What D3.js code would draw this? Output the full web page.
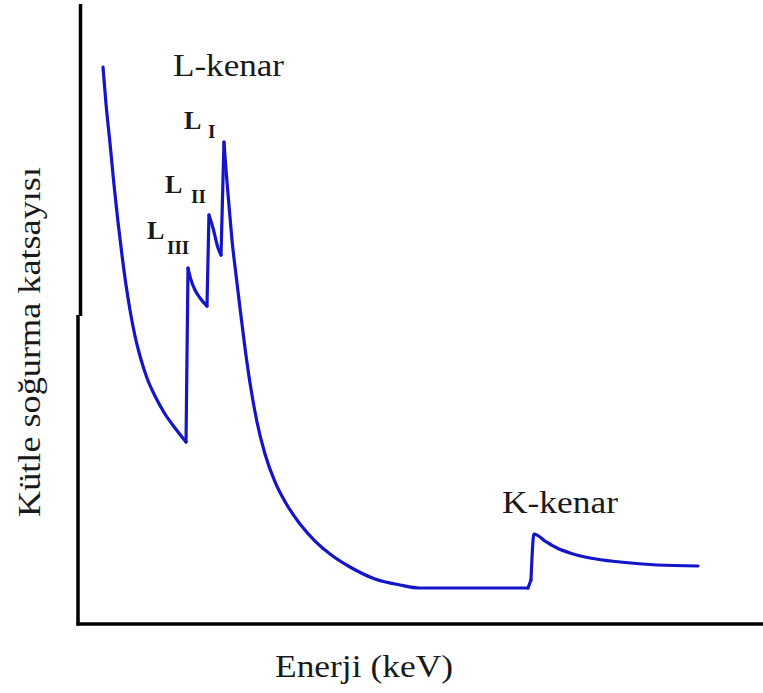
<!DOCTYPE html>
<html>
<head>
<meta charset="utf-8">
<script src="https://cdn.jsdelivr.net/npm/d3@7"></script>
<style>
  html, body { margin: 0; padding: 0; background: #ffffff; }
  svg { display: block; }
  text { font-family: "Liberation Serif", "Times New Roman", serif; fill: #1a1a1a; }
</style>
</head>
<body>
<svg id="chart" width="763" height="693"></svg>
<script>
// Energy (arbitrary units) and mass absorption coefficient (arbitrary units)
const energy = [3.65, 4.09, 4.67, 5.26, 5.84, 6.42, 7.01, 7.59, 8.32, 9.05, 10.07, 11.24, 12.7, 14.16, 15.77,
                16.06, 16.5, 17.08, 17.81, 18.83,
                19.12, 19.71, 20.44, 20.88,
                21.31, 21.61, 22.04, 22.48, 23.07, 23.65, 24.38, 25.11, 26.13, 27.3, 28.76, 30.51, 32.41, 34.6, 36.79, 39.71, 43.36, 47.01, 49.93, 65.69,
                66.13,
                66.57, 68.18, 69.93, 71.82, 74.74, 79.12, 84.53, 90.51];
const coefficient = [92.83, 86.67, 80.17, 73.17, 67.0, 61.5, 56.5, 52.33, 48.0, 44.67, 41.0, 38.0, 35.0, 32.67, 30.33,
                     59.33, 57.33, 55.67, 54.33, 53.0,
                     68.17, 66.0, 62.67, 61.5,
                     80.33, 75.67, 69.83, 64.0, 58.17, 52.67, 46.0, 40.17, 33.67, 28.33, 23.67, 19.83, 16.67, 13.83, 11.67, 9.5, 7.5, 6.5, 6.0, 6.0,
                     7.33,
                     15.0, 13.83, 12.67, 11.83, 11.0, 10.33, 9.83, 9.67];
// Absorption edges: index of first point after each jump
const edgeStarts = [15, 20, 24, 44];

const edgeLabels = ["L-kenar", "K-kenar"];
const subshellLabels = ["L", "L", "L"];
const subshellSubs = ["I", "II", "III"];
const xTitle = "Enerji (keV)";
const yTitle = "Kütle soğurma katsayısı";

const svg = d3.select("#chart");
const x = d3.scaleLinear().domain([0, 100]).range([78, 763]);
const y = d3.scaleLinear().domain([0, 100]).range([624, 24]);

// Axes (no ticks)
const bottomAxis = d3.axisBottom(x).tickValues([]).tickSizeOuter(0);
const gx = svg.append("g").attr("transform", `translate(0, ${y(0)})`).call(bottomAxis);
gx.select(".domain").attr("stroke", "#000").attr("stroke-width", 3.5).attr("d", `M${x(0) - 1.5},0H763`);

const yLower = d3.scaleLinear().domain([0, 51.5]).range([624, 315]);
const gyl = svg.append("g").attr("transform", `translate(${x(0)}, 0)`).call(d3.axisLeft(yLower).tickValues([]).tickSizeOuter(0));
gyl.select(".domain").attr("stroke", "#000").attr("stroke-width", 3.5).attr("d", `M0,${y(0) + 1.5}V315`);
const yUpper = d3.scaleLinear().domain([51.5, 103.3]).range([315, 4]);
const gyu = svg.append("g").attr("transform", `translate(${x(0) + 2.5}, 0)`).call(d3.axisLeft(yUpper).tickValues([]).tickSizeOuter(0));
gyu.select(".domain").attr("stroke", "#000").attr("stroke-width", 3.5).attr("d", `M0,316V4`);

// Curve: smooth segments between edges, straight jumps at edges
const pts = energy.map((e, i) => [e, coefficient[i]]);
const smooth = d3.line().x(d => x(d[0])).y(d => y(d[1])).curve(d3.curveMonotoneX);
const straight = d3.line().x(d => x(d[0])).y(d => y(d[1]));
const bounds = [0, ...edgeStarts, pts.length];
const curveG = svg.append("g").attr("fill", "none").attr("stroke", "#1515c8").attr("stroke-width", 3.2)
  .attr("stroke-linejoin", "round").attr("stroke-linecap", "round");
for (let s = 0; s < bounds.length - 1; s++) {
  const seg = pts.slice(bounds[s], bounds[s + 1]);
  if (seg.length > 1) curveG.append("path").attr("d", smooth(seg));
}
edgeStarts.forEach(i => {
  curveG.append("path").attr("d", straight([pts[i - 1], pts[i]]));
});

// Edge labels
svg.append("text").attr("x", 173).attr("y", 76).attr("font-size", 31)
  .attr("textLength", 111).attr("lengthAdjust", "spacingAndGlyphs").text(edgeLabels[0]);
svg.append("text").attr("x", 502).attr("y", 513).attr("font-size", 31)
  .attr("textLength", 116).attr("lengthAdjust", "spacingAndGlyphs").text(edgeLabels[1]);

// Subshell labels
const subPos = [
  {lx: 184, ly: 129, sx: 208, sy: 138},
  {lx: 165, ly: 193, sx: 191, sy: 203},
  {lx: 147, ly: 239, sx: 167, sy: 254}
];
subPos.forEach((p, i) => {
  svg.append("text").attr("x", p.lx).attr("y", p.ly).attr("font-size", 26)
    .attr("font-weight", "bold").text(subshellLabels[i]);
  svg.append("text").attr("x", p.sx).attr("y", p.sy).attr("font-size", 19)
    .attr("font-weight", "bold").text(subshellSubs[i]);
});

// Axis titles
svg.append("text").attr("x", 275).attr("y", 677).attr("font-size", 32)
  .attr("textLength", 178).attr("lengthAdjust", "spacingAndGlyphs").text(xTitle);
svg.append("text").attr("transform", "translate(40, 517) rotate(-90)").attr("font-size", 32)
  .attr("textLength", 350).attr("lengthAdjust", "spacingAndGlyphs").text(yTitle);
</script>
</body>
</html>
